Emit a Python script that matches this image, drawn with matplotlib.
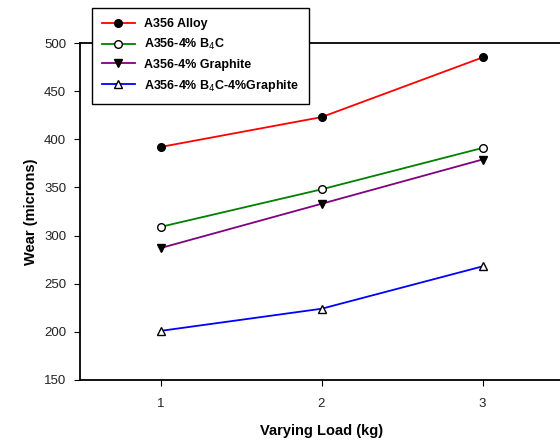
import matplotlib
matplotlib.use("Agg")
import matplotlib.pyplot as plt

plt.rcParams['font.family'] = ['Liberation Sans', 'DejaVu Sans']

loads = [1, 2, 3]
alloy = [392, 423, 485]
b4c = [309, 348, 391]
graphite = [287, 333, 379]
b4c_graphite = [201, 224, 268]

labels = ["A356 Alloy", "A356-4% B$_4$C", "A356-4% Graphite",
          "A356-4% B$_4$C-4%Graphite"]

fig = plt.figure(figsize=(5.6, 4.43), dpi=100)
ax = fig.add_axes([80/560, 1-380/443, 483/560, 337/443])

ax.plot(loads, alloy, color='red', marker='o', mfc='black', mec='black', ms=5.5, lw=1.3, label=labels[0])
ax.plot(loads, b4c, color='green', marker='o', mfc='white', mec='black', ms=5.5, lw=1.3, label=labels[1])
ax.plot(loads, graphite, color='purple', marker='v', mfc='black', mec='black', ms=6, lw=1.3, label=labels[2])
ax.plot(loads, b4c_graphite, color='blue', marker='^', mfc='white', mec='black', ms=6, lw=1.3, label=labels[3])

ax.set_xlim(0.5, 3.5)
ax.set_ylim(150, 500)
ax.set_xticks([1, 2, 3])
ax.set_yticks(range(150, 501, 50))
ax.spines['right'].set_visible(False)
for s in ['left', 'bottom', 'top']:
    ax.spines[s].set_linewidth(1.3)
ax.tick_params(direction='out', labelsize=9.5, length=4, labelcolor='#222222')
ax.tick_params(axis='x', pad=9)
ax.tick_params(axis='y', pad=6)
ax.set_xlabel("Varying Load (kg)", fontsize=10.5, fontweight='bold', labelpad=10)
ax.set_ylabel("Wear (microns)", fontsize=10.5, fontweight='bold', labelpad=4)

leg = fig.legend(loc='upper left', bbox_to_anchor=(92/560, 1-8/443), borderaxespad=0,
                 fancybox=False, framealpha=1, edgecolor='black',
                 prop={'weight': 'bold', 'size': 9},
                 handlelength=2.6, borderpad=0.8, labelspacing=0.55, handletextpad=0.8)
leg.get_frame().set_linewidth(1.0)

fig.savefig("out.png", dpi=100)
